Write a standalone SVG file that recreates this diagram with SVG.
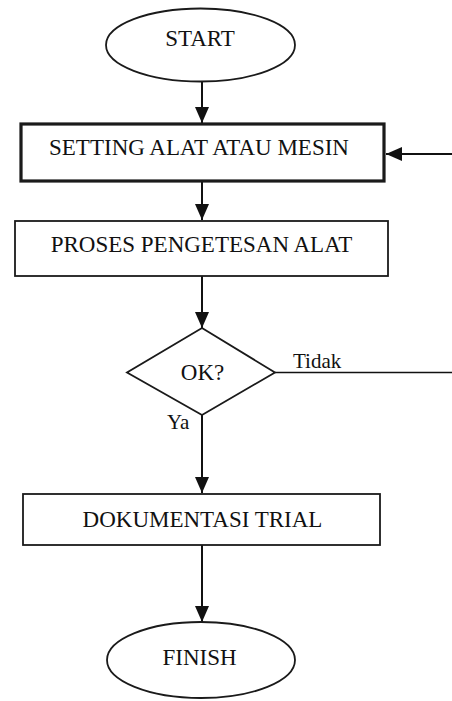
<svg xmlns="http://www.w3.org/2000/svg" width="452" height="701" viewBox="0 0 452 701">
<style>
.t{font-family:"Liberation Serif","Times New Roman",serif;font-size:23px;fill:#111;text-anchor:middle}
.lbl{font-family:"Liberation Serif","Times New Roman",serif;font-size:21px;fill:#111}
.sh{fill:#fff;stroke:#1a1a1a;stroke-width:1.8}
.thick{stroke-width:3.2}
.ln{fill:none;stroke:#111;stroke-width:2}
</style>
<defs>
<marker id="ah" viewBox="0 0 16 14" refX="16" refY="7" markerWidth="16" markerHeight="14" markerUnits="userSpaceOnUse" orient="auto">
<path d="M0,0 L16,7 L0,14 z" fill="#111"/>
</marker>
</defs>
<rect width="452" height="701" fill="#fff"/>
<g id="connectors">
<line class="ln" x1="202" y1="81" x2="202" y2="123" marker-end="url(#ah)"/>
<line class="ln" x1="202" y1="181" x2="202" y2="220" marker-end="url(#ah)"/>
<line class="ln" x1="202" y1="276" x2="202" y2="328" marker-end="url(#ah)"/>
<line class="ln" x1="202" y1="415" x2="202" y2="493" marker-end="url(#ah)"/>
<line class="ln" x1="202" y1="545" x2="202" y2="622" marker-end="url(#ah)"/>
<line class="ln" x1="275" y1="372.500" x2="452" y2="372.500" style="stroke-width:1.6"/>
<line class="ln" x1="452" y1="154" x2="386" y2="154" marker-end="url(#ah)"/>
<text class="lbl" x="293" y="368">Tidak</text>
<text class="lbl" x="167" y="429">Ya</text>
</g>
<g id="start">
<ellipse class="sh" cx="200.500" cy="45" rx="94.500" ry="36.500"/>
<text class="t" x="200" y="46">START</text>
</g>
<g id="setting">
<rect class="sh thick" x="21" y="124" width="363" height="57"/>
<text class="t" x="199" y="155">SETTING ALAT ATAU MESIN</text>
</g>
<g id="proses">
<rect class="sh" x="15" y="221" width="373" height="55"/>
<text class="t" x="201.500" y="252">PROSES PENGETESAN ALAT</text>
</g>
<g id="ok">
<polygon class="sh" points="202,328 275,372.500 202,415 127,372.500"/>
<text class="t" x="202.500" y="380">OK?</text>
</g>
<g id="dokumentasi">
<rect class="sh" x="23" y="494" width="357" height="51"/>
<text class="t" x="202.500" y="527">DOKUMENTASI TRIAL</text>
</g>
<g id="finish">
<ellipse class="sh" cx="201" cy="660" rx="94" ry="38"/>
<text class="t" x="199.500" y="665">FINISH</text>
</g>
</svg>
